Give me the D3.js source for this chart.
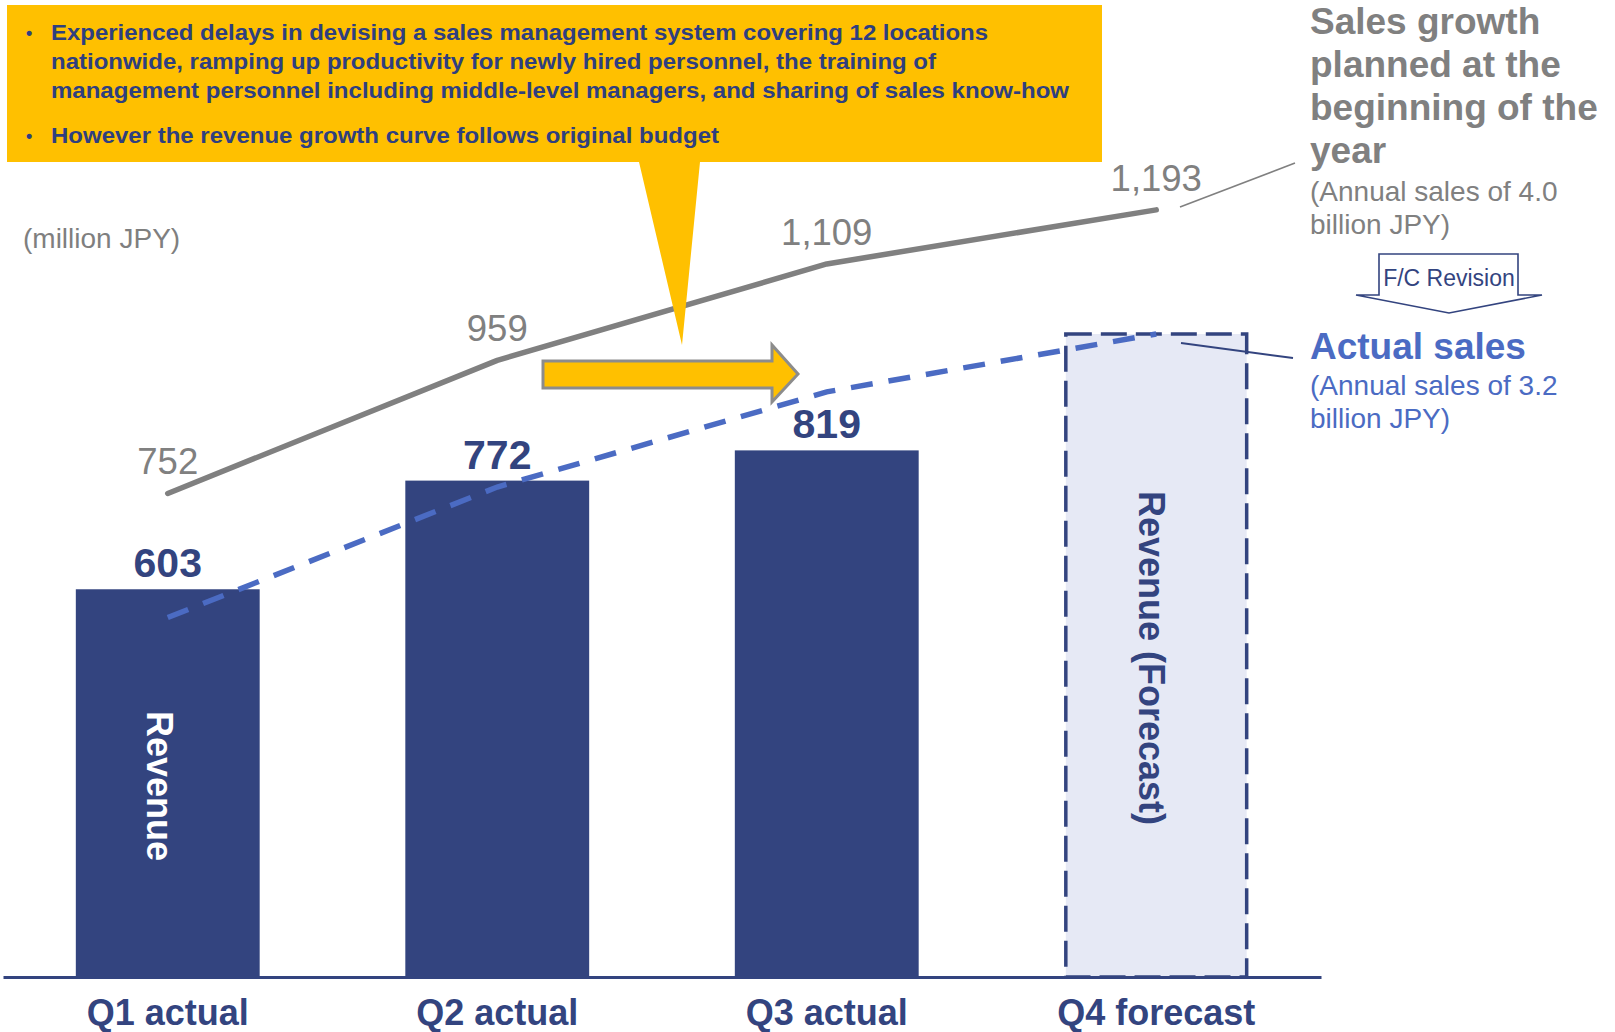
<!DOCTYPE html>
<html><head><meta charset="utf-8">
<script src="https://cdn.jsdelivr.net/npm/d3@7"></script>
<style>
body{margin:0;background:#fff;}
svg{display:block;font-family:"Liberation Sans",Arial,Helvetica,sans-serif;}
</style>
</head><body>
<svg id="c" width="1615" height="1032"></svg>
<script>
// ---- data ----
const categories = ["Q1 actual", "Q2 actual", "Q3 actual", "Q4 forecast"];
const revenue = [603, 772, 819, 1000];
const revenueLabels = ["603", "772", "819", ""];
const barKinds = ["actual", "actual", "actual", "forecast"];
const planSales = [752, 959, 1109, 1193];
const planLabels = ["752", "959", "1,109", "1,193"];
const actualCurve = [559, 762, 910, 1000];
const calloutLines = [
  "Experienced delays in devising a sales management system covering 12 locations",
  "nationwide, ramping up productivity for newly hired personnel, the training of",
  "management personnel including middle-level managers, and sharing of sales know-how",
  "However the revenue growth curve follows original budget"
];
const planTitle = ["Sales growth", "planned at the", "beginning of the", "year"];
const planSub = ["(Annual sales of 4.0", "billion JPY)"];
const actualTitle = ["Actual sales"];
const actualSub = ["(Annual sales of 3.2", "billion JPY)"];

// ---- styles ----
const NAVY = "#33447F", BLUE = "#4B6BC3", GRAY = "#808080", YELLOW = "#FFC000", LIGHT = "#E6E9F5";

const svg = d3.select("#c");
const x = d3.scaleBand().domain(categories).range([3, 1321]).paddingInner(0.442).paddingOuter(0.221);
const y = d3.scaleLinear().domain([0, 1000]).range([977, 334]);
const cx = c => x(c) + x.bandwidth() / 2;

// bars
const bars = categories.map((c, i) => ({c, v: revenue[i], kind: barKinds[i], label: revenueLabels[i]}));
svg.append("g").selectAll("rect").data(bars).join("rect")
  .attr("x", d => x(d.c) + (d.kind === "forecast" ? 1.5 : 0))
  .attr("width", d => x.bandwidth() - (d.kind === "forecast" ? 3 : 0))
  .attr("y", d => y(d.v))
  .attr("height", d => y(0) - y(d.v))
  .attr("fill", d => d.kind === "forecast" ? LIGHT : NAVY)
  .attr("stroke", d => d.kind === "forecast" ? NAVY : "none")
  .attr("stroke-width", 3.5)
  .attr("stroke-dasharray", d => d.kind === "forecast" ? "26,9" : null);

// axis
const axis = svg.append("g").attr("transform", `translate(0,${y(0)})`)
  .call(d3.axisBottom(x).tickSize(0).tickSizeOuter(0).tickPadding(22));
axis.select(".domain").attr("stroke", NAVY).attr("stroke-width", 3);
axis.selectAll("text").attr("font-size", 36).attr("font-weight", "bold")
  .attr("fill", NAVY).attr("font-family", "Liberation Sans, Arial, sans-serif");

// bar value labels
svg.append("g").selectAll("text").data(bars.filter(d => d.label)).join("text")
  .attr("x", d => cx(d.c)).attr("y", d => y(d.v) - 12)
  .attr("text-anchor", "middle").attr("font-size", 41).attr("font-weight", "bold")
  .attr("fill", NAVY).text(d => d.label);

// rotated labels inside bars
svg.append("text").attr("transform", `translate(147,786) rotate(90)`)
  .attr("text-anchor", "middle").attr("font-size", 36).attr("font-weight", "bold")
  .attr("fill", "#fff").text("Revenue");
svg.append("text").attr("transform", `translate(1139,658) rotate(90)`)
  .attr("text-anchor", "middle").attr("font-size", 36).attr("font-weight", "bold")
  .attr("fill", NAVY).text("Revenue (Forecast)");

// plan line
const line = d3.line().x(d => cx(d.c)).y(d => y(d.v));
const planPts = categories.map((c, i) => ({c, v: planSales[i], label: planLabels[i]}));
svg.append("path").datum(planPts).attr("d", line)
  .attr("fill", "none").attr("stroke", GRAY).attr("stroke-width", 5.5)
  .attr("stroke-linecap", "round").attr("stroke-linejoin", "round");
svg.append("g").selectAll("text").data(planPts).join("text")
  .attr("x", d => cx(d.c)).attr("y", d => y(d.v) - 19)
  .attr("text-anchor", "middle").attr("font-size", 36.5).attr("fill", GRAY)
  .text(d => d.label);

// actual dashed curve
const actPts = categories.map((c, i) => ({c, v: actualCurve[i]}));
svg.append("path").datum(actPts).attr("d", line)
  .attr("fill", "none").attr("stroke", BLUE).attr("stroke-width", 5.5)
  .attr("stroke-dasharray", "22,16");

// (million JPY)
svg.append("text").attr("x", 23).attr("y", 248).attr("font-size", 28)
  .attr("fill", "#7F7F7F").text("(million JPY)");

// callout box
svg.append("path")
  .attr("d", "M7,5 H1102 V162 H700 L682,345 L639,162 H7 Z")
  .attr("fill", YELLOW);
const cl = svg.append("g").attr("fill", "#2F3F7F").attr("font-weight", "bold");
const clY = [40, 69, 98, 143];
const clW = [937, 885, 1018, 668];
calloutLines.forEach((t, i) => {
  cl.append("text").attr("x", 51).attr("y", clY[i]).attr("font-size", 22)
    .attr("textLength", clW[i]).attr("lengthAdjust", "spacingAndGlyphs").text(t);
});
[40, 143].forEach(yy => cl.append("text").attr("x", 26).attr("y", yy - 1)
  .attr("font-size", 18).text("•"));

// yellow arrow
svg.append("path").attr("d", "M543,361 H772 V345 L798,374 L772,402 V388 H543 Z")
  .attr("fill", YELLOW).attr("stroke", "#8C8C8C").attr("stroke-width", 3);

// leader lines
svg.append("line").attr("x1", 1180).attr("y1", 207).attr("x2", 1295).attr("y2", 163)
  .attr("stroke", GRAY).attr("stroke-width", 1.6);
svg.append("line").attr("x1", 1181).attr("y1", 343).attr("x2", 1293).attr("y2", 358)
  .attr("stroke", NAVY).attr("stroke-width", 2);

// right side legend texts
const rx = 1310;
planTitle.forEach((t, i) => svg.append("text").attr("x", rx).attr("y", 33.5 + i * 43.3)
  .attr("font-size", 37).attr("font-weight", "bold").attr("fill", GRAY).text(t));
planSub.forEach((t, i) => svg.append("text").attr("x", rx).attr("y", 201 + i * 33)
  .attr("font-size", 28).attr("fill", GRAY).text(t));
actualTitle.forEach((t, i) => svg.append("text").attr("x", rx).attr("y", 359)
  .attr("font-size", 37).attr("font-weight", "bold").attr("fill", BLUE).text(t));
actualSub.forEach((t, i) => svg.append("text").attr("x", rx).attr("y", 395 + i * 33)
  .attr("font-size", 28).attr("fill", BLUE).text(t));

// F/C revision arrow
svg.append("path").attr("d", "M1379,254 H1518 V295 H1542 L1449,313 L1356,295 H1379 Z")
  .attr("fill", "#fff").attr("stroke", NAVY).attr("stroke-width", 1.6);
svg.append("text").attr("x", 1449).attr("y", 286).attr("text-anchor", "middle")
  .attr("font-size", 23).attr("fill", NAVY).text("F/C Revision");
</script>
</body></html>
